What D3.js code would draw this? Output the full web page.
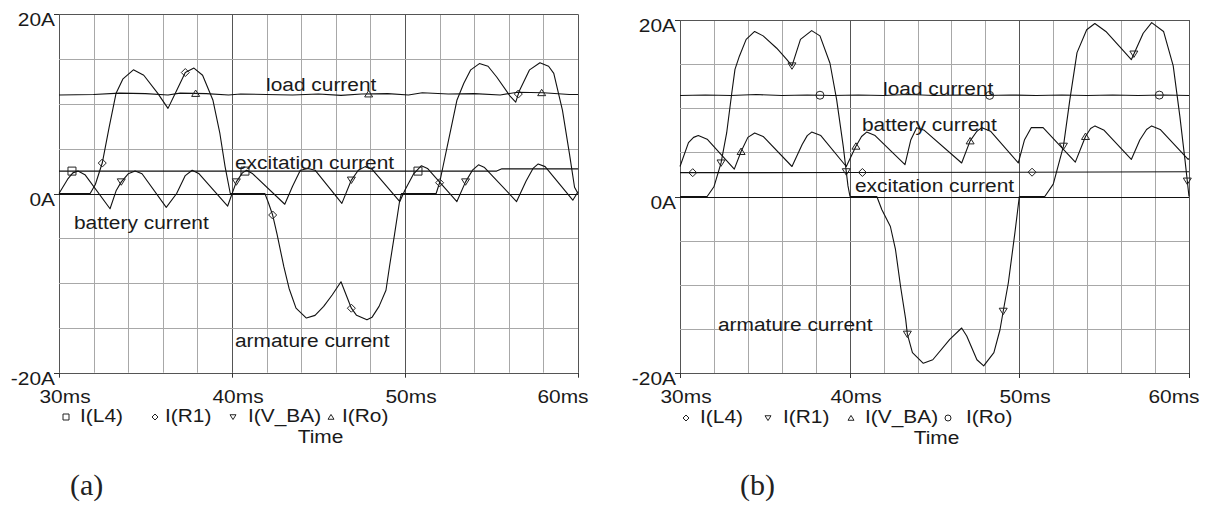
<!DOCTYPE html>
<html>
<head>
<meta charset="utf-8">
<script src="https://cdn.jsdelivr.net/npm/d3@7"></script>
<style>
  body { margin: 0; background: #fff; }
  svg { display: block; }
</style>
</head>
<body>
<script>

// ---------------- shared axis ticks ----------------
var timeTicks = [30, 40, 50, 60];
var timeTickLabels = ['30ms', '40ms', '50ms', '60ms'];
var currentTicks = [-20, 0, 20];
var currentTickLabels = ['-20A', '0A', '20A'];
var minorTimeStep = 2;      // ms between vertical grid lines
var minorCurrentStep = 5;   // A between horizontal grid lines

// ---------------- panel (a) : [time ms, current A] ----------------
var aArmature = [[30,0],[31.8,0],[32.1,1.0],[32.5,3.4],[32.9,7.4],[33.3,11.2],[33.7,12.8],[34.3,13.8],[34.9,13.2],
  [35.7,11.2],[36.3,9.5],[36.8,11.5],[37.3,13.5],[37.8,14.0],[38.3,13.2],[38.9,10.4],[39.3,6.7],[39.6,3.0],[39.9,0],
  [41.9,0],[42.1,-1.0],[42.35,-2.4],[42.6,-4.5],[43.0,-8.2],[43.3,-10.6],[43.7,-12.8],[44.3,-13.9],[44.8,-13.6],
  [45.3,-12.6],[45.8,-11.3],[46.3,-9.85],[46.9,-12.8],[47.2,-13.6],[47.8,-14.1],[48.1,-13.8],[48.5,-12.6],[48.9,-10.8],
  [49.1,-8.2],[49.4,-4.5],[49.7,-0.7],[49.8,0],[51.8,0],[52.0,1.2],[52.6,6.7],[53.0,10.4],[53.4,12.3],[53.8,13.8],
  [54.3,14.5],[54.8,14.2],[55.3,13.0],[56.1,10.8],[56.4,10.2],[56.6,11.4],[57.2,13.8],[57.8,14.6],[58.3,14.2],
  [58.6,13.4],[59.1,9.3],[59.5,4.5],[59.8,0.7],[60,0]];
var aBattery = [[30,0],[30.5,1.6],[30.8,2.3],[31.1,2.5],[31.5,2.1],[32.95,-1.7],[33.3,0.3],[33.6,1.3],[34.0,2.2],
  [34.4,2.5],[34.8,2.2],[36.2,-1.55],[36.8,0],[37.3,2.0],[37.7,2.6],[38.1,2.2],[39.75,-1.4],[40.25,1.3],[40.6,2.3],
  [40.85,2.6],[41.2,2.2],[43.05,-1.2],[43.5,0.8],[43.95,2.6],[44.4,2.8],[44.8,2.6],[46.35,-1.1],[46.9,1.5],
  [47.3,2.6],[47.7,3.0],[48.1,2.7],[49.7,-0.9],[50.0,0.4],[50.5,2.2],[50.95,3.1],[51.3,2.8],[53.0,-0.9],[53.5,1.3],
  [53.9,2.6],[54.25,3.2],[54.6,2.9],[56.45,-0.9],[57.0,1.4],[57.4,2.8],[57.7,3.3],[58.1,3.0],[59.7,-0.75],[60,0.2]];
var aExcitation = [[30,2.5],[35,2.5],[40,2.5],[45,2.5],[50,2.5],[55.3,2.5],[55.6,2.75],[60,2.75]];
var aLoad = [[30,11.0],[32,11.05],[33.5,11.2],[35,11.15],[36.3,11.0],[37,11.2],[38.5,11.15],[39.8,11.0],[40.5,11.1],
  [42,11.05],[43.5,11.0],[45,11.1],[46.3,10.95],[47.5,11.1],[49,11.15],[50.2,11.0],[51,11.25],[52.5,11.1],
  [54,11.15],[55.5,11.0],[56.5,11.3],[58,11.25],[59.5,11.05],[60,11.05]];

// marker times (ms) along each trace, panel (a)
var aMarksExcitation = [30.75, 40.75, 50.75];
var aMarksArmature = [32.5, 37.3, 42.35, 46.9, 52.0, 56.55];
var aMarksBattery = [33.6, 40.25, 46.9, 53.5];
var aMarksLoad = [37.9, 47.9, 57.9];

var aLegendLabels = ['I(L4)', 'I(R1)', 'I(V_BA)', 'I(Ro)'];
var aAnnotations = ['load current', 'excitation current', 'battery current', 'armature current'];

// ---------------- panel (b) ----------------
var bArmature = [[30,0],[31.6,0],[32.0,1.1],[32.42,3.8],[32.75,7.2],[33.05,11.7],[33.24,14.4],[33.5,15.9],[33.9,17.8],
  [34.4,18.7],[34.9,18.2],[35.7,16.8],[36.3,15.5],[36.6,14.8],[37.1,17.8],[37.76,18.8],[38.25,18.2],[38.84,15.1],
  [39.23,11.0],[39.62,5.7],[39.9,1.2],[40.02,0],[41.6,0],[41.9,-1.5],[42.4,-3.4],[42.7,-6.0],[43.0,-10.2],
  [43.3,-13.9],[43.4,-15.6],[43.7,-17.7],[44.34,-18.9],[44.9,-18.5],[45.9,-16.2],[46.6,-14.9],[46.9,-15.8],
  [47.5,-18.5],[47.9,-19.2],[48.5,-17.7],[48.86,-15.1],[49.05,-13.0],[49.35,-9.8],[49.74,-4.1],[50.0,0],[51.5,0],
  [52.0,1.4],[52.6,5.7],[52.98,11.0],[53.4,16.3],[53.97,18.9],[54.45,19.6],[55.1,18.7],[55.9,17.0],[56.6,15.5],
  [57.3,18.5],[57.8,19.7],[58.5,18.7],[59.07,14.8],[59.46,9.1],[59.76,4.2],[60,0]];
var bBattery = [[30,3.4],[30.5,6.1],[30.8,6.7],[31.08,6.9],[31.6,6.5],[33.2,3.1],[33.6,5.1],[34.0,6.7],[34.4,7.2],
  [34.9,6.8],[36.6,3.4],[37.2,5.9],[37.5,6.9],[37.76,7.3],[38.3,6.9],[39.8,3.4],[40.37,5.7],[40.7,6.8],[41.0,7.3],
  [41.5,6.9],[43.26,3.6],[43.6,6.4],[43.95,7.8],[44.4,7.5],[46.6,3.8],[47.1,6.3],[47.5,7.4],[47.8,7.8],[48.3,7.4],
  [49.94,3.8],[50.3,6.4],[50.7,7.8],[51.4,7.8],[53.3,3.9],[53.9,6.8],[54.2,7.7],[54.46,8.0],[55.0,7.5],[56.6,4.2],
  [57.1,6.4],[57.5,7.6],[57.8,8.0],[58.3,7.6],[59.95,4.2],[60,4.3]];
var bExcitation = [[30,2.7],[40,2.72],[50,2.75],[60,2.8]];
var bLoad = [[30,11.45],[31.5,11.5],[33,11.45],[34.5,11.55],[36,11.45],[37.5,11.5],[39,11.45],[40.5,11.5],
  [42,11.45],[43.5,11.55],[45,11.45],[46.5,11.5],[48,11.45],[49.5,11.5],[51,11.45],[52.5,11.5],[54,11.45],
  [55.5,11.5],[57,11.45],[58.5,11.5],[60,11.45]];

var bMarksExcitation = [30.75, 40.75, 50.75];
var bMarksArmature = [32.42, 36.6, 39.8, 43.4, 49.05, 52.6, 56.75, 59.9];
var bMarksBattery = [33.6, 40.37, 47.1, 53.9];
var bMarksLoad = [38.25, 48.25, 58.25];

var bLegendLabels = ['I(L4)', 'I(R1)', 'I(V_BA)', 'I(Ro)'];
var bAnnotations = ['load current', 'battery current', 'excitation current', 'armature current'];

var captions = ['(a)', '(b)'];

// ---------------- settings ----------------
var attrs = {
  width: 1208,
  height: 508,
  fontFamily: '"Liberation Sans", Arial, sans-serif',
  fontSize: 19,
  stretch: 1.1,          // the original lettering is drawn a bit wide
  textColor: '#1a1a1a',
  lineColor: '#111',
  minorGrid: '#a8a8a8',
  majorGrid: '#555'
};

var svg = d3.select('body').append('svg')
  .attr('width', attrs.width)
  .attr('height', attrs.height);

// wide sans text, like the pspice printout
function wideText(g, x, y, str, anchor) {
  return g.append('text')
    .attr('transform', 'translate(' + x + ',' + y + ') scale(' + attrs.stretch + ',1)')
    .attr('text-anchor', anchor || 'start')
    .attr('font-family', attrs.fontFamily)
    .attr('font-size', attrs.fontSize)
    .attr('fill', attrs.textColor)
    .text(str);
}

// outline marker paths, centred on 0,0
function markerPath(type, s) {
  var h = s / 2;
  if (type === 'square') return 'M' + (-h) + ',' + (-h) + 'H' + h + 'V' + h + 'H' + (-h) + 'Z';
  if (type === 'diamond') return 'M0,' + (-h) + 'L' + h + ',0L0,' + h + 'L' + (-h) + ',0Z';
  if (type === 'down') return 'M' + (-h) + ',' + (-h * 0.75) + 'H' + h + 'L0,' + (h * 0.85) + 'Z';
  if (type === 'up') return 'M' + (-h) + ',' + (h * 0.75) + 'H' + h + 'L0,' + (-h * 0.85) + 'Z';
  // circle
  return 'M' + h + ',0A' + h + ',' + h + ' 0 1,1 ' + (-h) + ',0A' + h + ',' + h + ' 0 1,1 ' + h + ',0Z';
}

// value of a trace at time t (for placing markers on it)
var bisectTime = d3.bisector(function (d) { return d[0]; }).left;
function valueAt(data, t) {
  var i = bisectTime(data, t);
  if (i <= 0) return data[0][1];
  if (i >= data.length) return data[data.length - 1][1];
  var a = data[i - 1], b = data[i];
  return a[1] + (b[1] - a[1]) * (t - a[0]) / (b[0] - a[0]);
}

function drawPanel(p) {
  var g = svg.append('g');

  var x = d3.scaleLinear().domain([30, 60]).range([p.left, p.right]);
  var y = d3.scaleLinear().domain([-20, 20]).range([p.bottom, p.top]);

  // grid: minor lines first
  var gridX = d3.range(30, 60.001, minorTimeStep);
  var gridY = d3.range(-20, 20.001, minorCurrentStep);

  g.selectAll('.vgrid').data(gridX).enter().append('line')
    .attr('class', 'vgrid')
    .attr('x1', function (d) { return Math.round(x(d)) + 0.5; })
    .attr('x2', function (d) { return Math.round(x(d)) + 0.5; })
    .attr('y1', p.top).attr('y2', p.bottom)
    .attr('stroke', function (d) { return d % 10 === 0 ? attrs.majorGrid : attrs.minorGrid; })
    .attr('stroke-width', 1);

  g.selectAll('.hgrid').data(gridY).enter().append('line')
    .attr('class', 'hgrid')
    .attr('y1', function (d) { return Math.round(y(d)) + 0.5; })
    .attr('y2', function (d) { return Math.round(y(d)) + 0.5; })
    .attr('x1', p.left).attr('x2', p.right)
    .attr('stroke', function (d) {
      if (d === 0) return '#111';
      return Math.abs(d) === 20 ? attrs.majorGrid : attrs.minorGrid;
    })
    .attr('stroke-width', 1);

  // y axis ticks + labels
  currentTicks.forEach(function (d, i) {
    var yy = Math.round(y(d)) + 0.5;
    g.append('line').attr('x1', p.left - 5).attr('x2', p.left).attr('y1', yy).attr('y2', yy)
      .attr('stroke', '#333');
    wideText(g, p.left - 4, yy + 11, currentTickLabels[i], 'end');
  });

  // x axis ticks + labels
  timeTicks.forEach(function (d, i) {
    var xx = Math.round(x(d)) + 0.5;
    g.append('line').attr('x1', xx).attr('x2', xx).attr('y1', p.bottom).attr('y2', p.bottom + 5)
      .attr('stroke', '#333');
    if (i === timeTicks.length - 1) {
      wideText(g, xx + 10, p.bottom + 30, timeTickLabels[i], 'end');
    } else {
      wideText(g, xx - 20, p.bottom + 30, timeTickLabels[i], 'start');
    }
  });

  // traces
  var line = d3.line()
    .x(function (d) { return x(d[0]); })
    .y(function (d) { return y(d[1]); });

  p.series.forEach(function (s) {
    g.append('path')
      .attr('d', line(s.data))
      .attr('fill', 'none')
      .attr('stroke', attrs.lineColor)
      .attr('stroke-width', 1.1)
      .attr('stroke-linejoin', 'round');

    g.selectAll(null).data(s.marks).enter().append('path')
      .attr('transform', function (t) {
        return 'translate(' + x(t) + ',' + y(valueAt(s.data, t)) + ')';
      })
      .attr('d', markerPath(s.symbol, 8))
      .attr('fill', 'none')
      .attr('stroke', '#222')
      .attr('stroke-width', 1);
  });

  // trace annotations
  p.annotations.forEach(function (txt, i) {
    wideText(g, p.annotationPos[i][0], p.annotationPos[i][1], txt, 'start');
  });

  // legend row under the axis
  p.series.forEach(function (s, i) {
    var lp = p.legendPos[i];
    g.append('path')
      .attr('transform', 'translate(' + lp[0] + ',' + (p.legendY - 5) + ')')
      .attr('d', markerPath(s.symbol, 6))
      .attr('fill', 'none')
      .attr('stroke', '#222')
      .attr('stroke-width', 1);
    wideText(g, lp[1], p.legendY, p.legendLabels[i], 'start');
  });
  wideText(g, (p.left + p.right) / 2 + 2, p.legendY + 21, 'Time', 'middle');

  // caption
  g.append('text')
    .attr('x', p.captionX).attr('y', 495)
    .attr('font-family', '"Liberation Serif", "Times New Roman", serif')
    .attr('font-size', 30)
    .attr('fill', '#222')
    .text(p.caption);
}

drawPanel({
  left: 59, right: 578, top: 14.3, bottom: 372.7,
  series: [
    { data: aExcitation, marks: aMarksExcitation, symbol: 'square' },
    { data: aArmature, marks: aMarksArmature, symbol: 'diamond' },
    { data: aBattery, marks: aMarksBattery, symbol: 'down' },
    { data: aLoad, marks: aMarksLoad, symbol: 'up' }
  ],
  annotations: aAnnotations,
  annotationPos: [[266, 91], [235, 169], [74, 229], [235, 347]],
  legendLabels: aLegendLabels,
  legendPos: [[66, 80], [155, 165], [233, 248], [331, 342]],
  legendY: 422,
  caption: captions[0],
  captionX: 70
});

drawPanel({
  left: 680, right: 1189, top: 20, bottom: 373,
  series: [
    { data: bExcitation, marks: bMarksExcitation, symbol: 'diamond' },
    { data: bArmature, marks: bMarksArmature, symbol: 'down' },
    { data: bBattery, marks: bMarksBattery, symbol: 'up' },
    { data: bLoad, marks: bMarksLoad, symbol: 'circle' }
  ],
  annotations: bAnnotations,
  annotationPos: [[883, 95], [862, 131], [855, 192], [718, 331]],
  legendLabels: bLegendLabels,
  legendPos: [[686, 700], [768, 783], [851, 865], [948, 966]],
  legendY: 423,
  caption: captions[1],
  captionX: 740
});

</script>
</body>
</html>
